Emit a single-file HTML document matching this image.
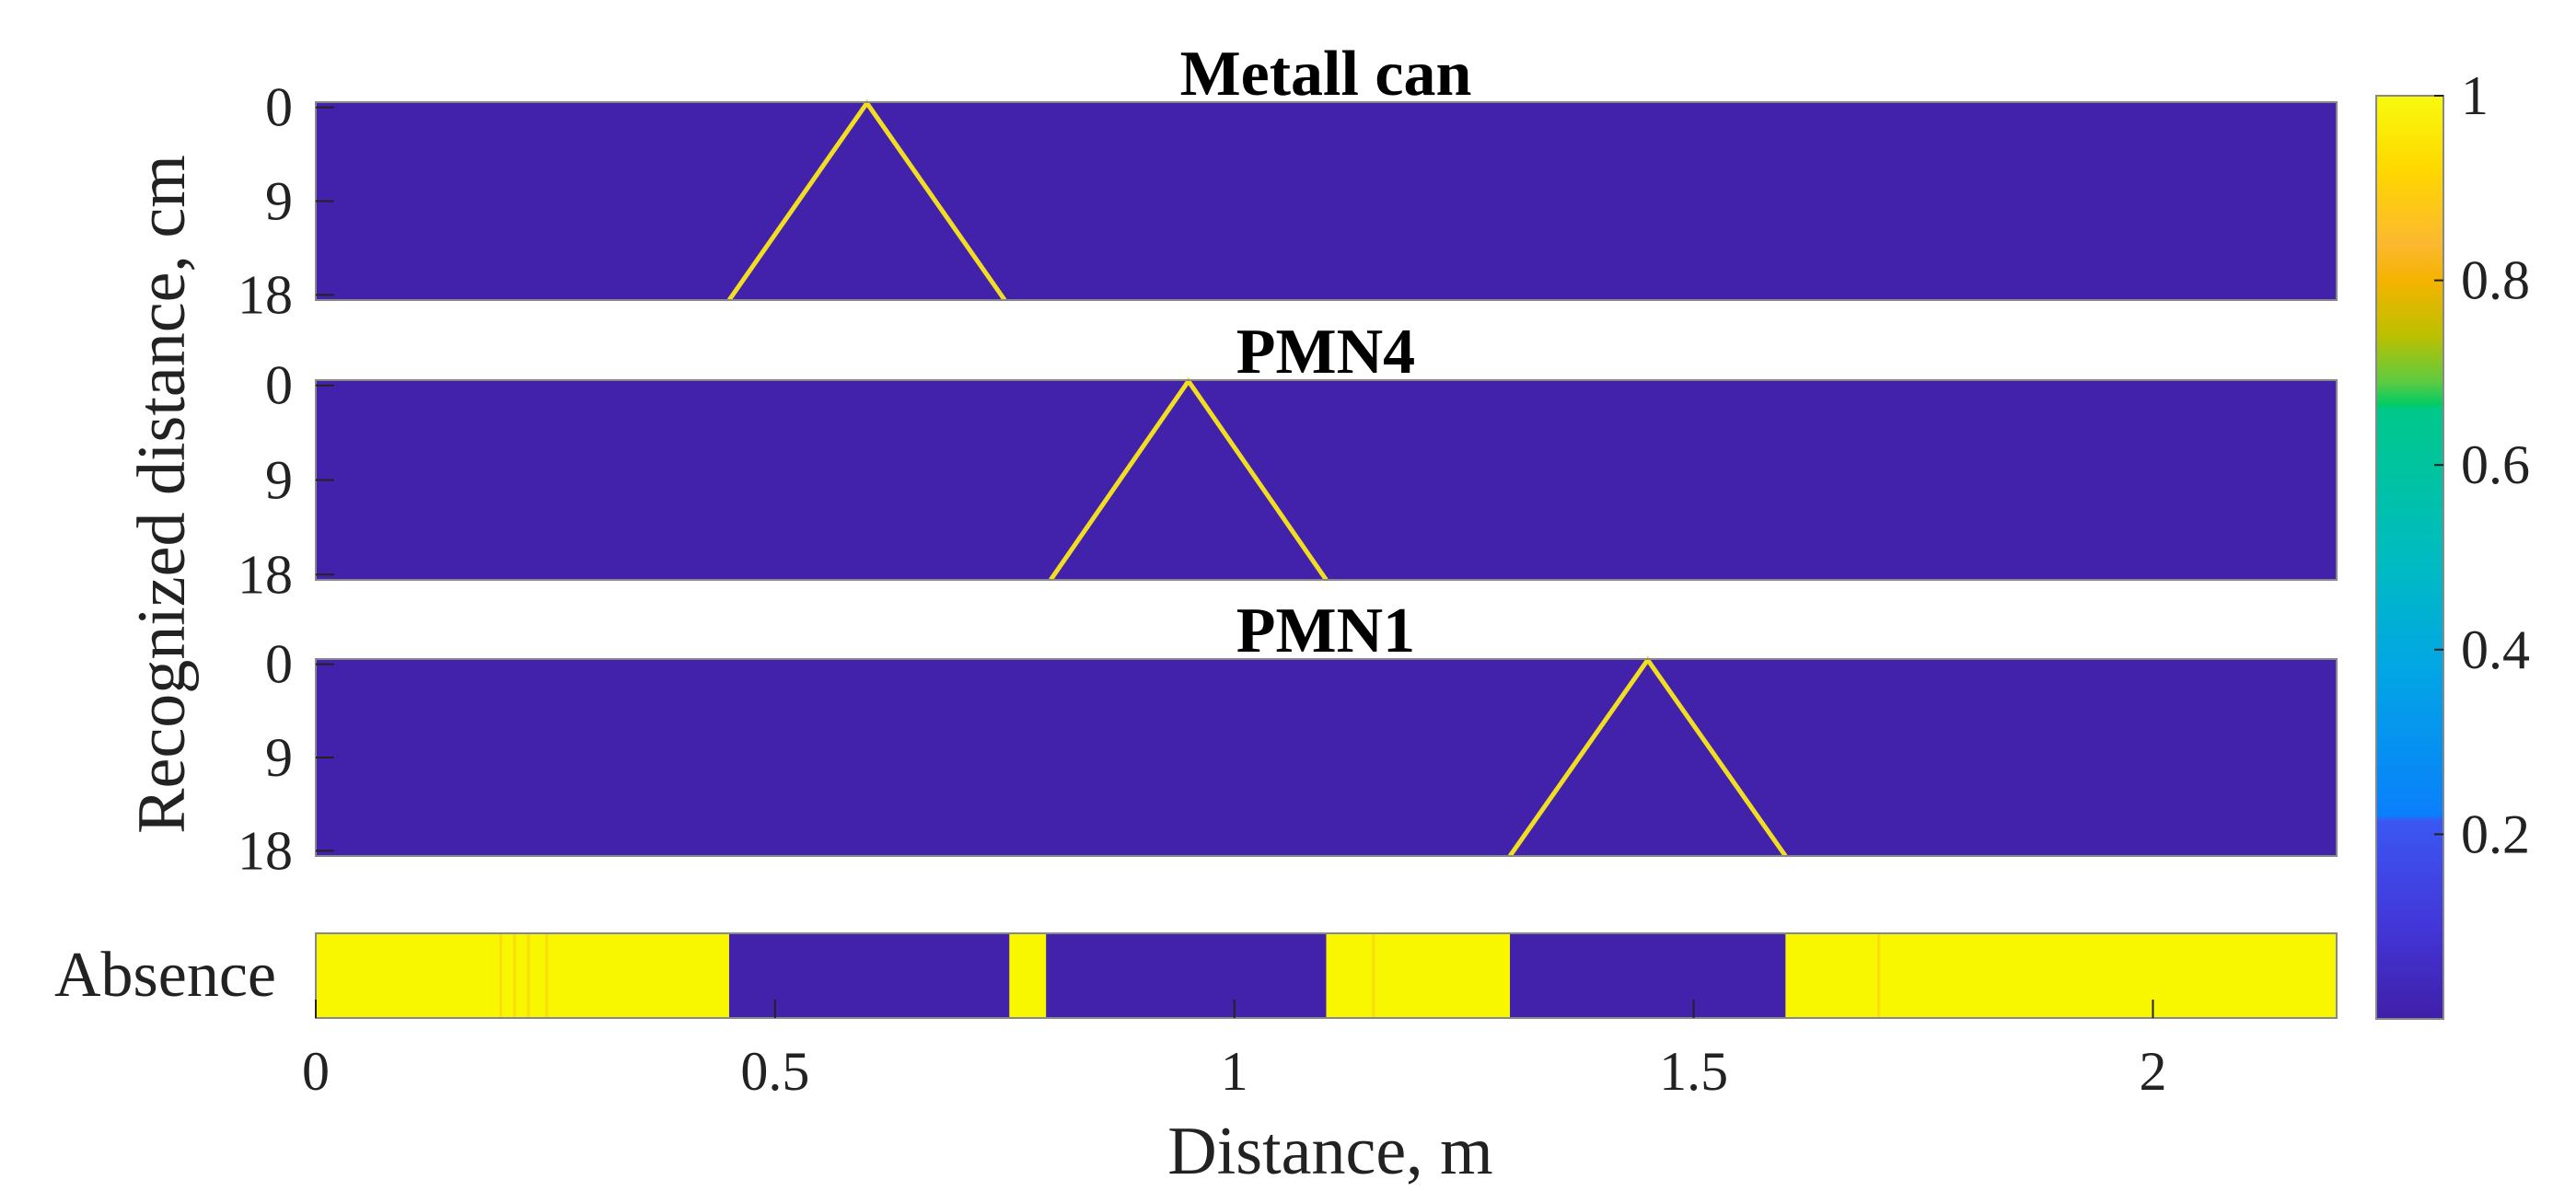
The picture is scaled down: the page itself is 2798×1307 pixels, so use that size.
<!DOCTYPE html>
<html><head><meta charset="utf-8"><style>
html,body{margin:0;padding:0;background:#fff;}
svg{display:block;font-family:"Liberation Serif",serif;}
</style></head><body>
<svg id="chart" width="2798" height="1307" viewBox="0 0 2798 1307" xmlns="http://www.w3.org/2000/svg">
<defs>
<linearGradient id="parula" x1="0" y1="1" x2="0" y2="0">
<stop offset="0" stop-color="#3f1fa8"/>
<stop offset="0.1" stop-color="#4336d8"/>
<stop offset="0.215" stop-color="#3a58f2"/>
<stop offset="0.22" stop-color="#0a7ffc"/>
<stop offset="0.38" stop-color="#02a6e4"/>
<stop offset="0.5" stop-color="#00bcc0"/>
<stop offset="0.66" stop-color="#00c88a"/>
<stop offset="0.665" stop-color="#00cc66"/>
<stop offset="0.69" stop-color="#5ccb40"/>
<stop offset="0.74" stop-color="#bcc000"/>
<stop offset="0.8" stop-color="#f5b300"/>
<stop offset="0.84" stop-color="#fcb830"/>
<stop offset="0.92" stop-color="#ffd800"/>
<stop offset="1" stop-color="#f8fa0d"/>
</linearGradient>
</defs>
<g id="plots"></g>
</svg>
<script>
// ---- data ----
const panelTitles = ["Metall can", "PMN4", "PMN1"];
const peakPositions = [0.6, 0.95, 1.45];
const halfWidths = [0.15, 0.15, 0.15];
const yTickValues = [0, 9, 18];
const xTickValues = [0, 0.5, 1, 1.5, 2];
const xTickLabels = ["0", "0.5", "1", "1.5", "2"];
const absenceStarts = [0, 0.755, 1.1, 1.6];
const absenceEnds = [0.45, 0.795, 1.3, 2.2];
const absenceStreaks = [0.2, 0.215, 0.23, 0.25, 1.15, 1.7];
const cbTickValues = [0.2, 0.4, 0.6, 0.8, 1];
const cbTickLabels = ["0.2", "0.4", "0.6", "0.8", "1"];

const NS = "http://www.w3.org/2000/svg";
const g = document.getElementById('plots');
function mk(tag, attrs, parent){const e=document.createElementNS(NS,tag);for(const k in attrs)e.setAttribute(k,attrs[k]);(parent||g).appendChild(e);return e;}

const X0=343, X1=2538, XMAX=2.2;
const xs = v => X0 + v/XMAX*(X1-X0);
const panels = [[111,326],[413,630],[716,930]];
const BG="#4222ab";

panels.forEach((p,i)=>{
  const [top,bot]=p;
  const rowH=(bot-top)/19;
  const ys = r => top + (r+0.5)*rowH;
  const grp = mk('g',{});
  
  
  const bg = mk('rect',{x:X0,y:top,width:X1-X0,height:bot-top,fill:BG},grp);
  
  
  const pk=peakPositions[i], hw=halfWidths[i];
  const line = mk('polyline',{points:`${xs(pk-hw)},${ys(18)+rowH/2} ${xs(pk)},${top+1} ${xs(pk+hw)},${ys(18)+rowH/2}`,fill:'none',stroke:'#f2de20','stroke-width':5},grp);
  
  
  const fr = mk('rect',{x:X0,y:top,width:X1-X0,height:bot-top,fill:'none',stroke:'#888','stroke-width':2},grp);
  
  
  yTickValues.forEach(v=>{
    const y=ys(v);
    const t=mk('line',{x1:X0,y1:y,x2:X0+20,y2:y,stroke:'#222','stroke-width':2},grp);
    
    
    const lb=mk('text',{x:318,y:y+20,'text-anchor':'end','font-size':60,fill:'#222'},grp);
    lb.textContent=String(v);
    
    
  });
  const tt=mk('text',{x:1440,y:top-8,'text-anchor':'middle','font-size':70,'font-weight':'bold',fill:'#000'},grp);
  tt.textContent=panelTitles[i];
  
  
});

// absence strip
const AT=1014, AB=1106;
const ag = mk('g',{});


const abg=mk('rect',{x:X0,y:AT,width:X1-X0,height:AB-AT,fill:BG},ag);


absenceStarts.forEach((s,i)=>{
  const r=mk('rect',{x:xs(s),y:AT,width:xs(absenceEnds[i])-xs(s),height:AB-AT,fill:'#f8f700'},ag);
  
  
});
absenceStreaks.forEach(s=>{
  const r=mk('rect',{x:xs(s),y:AT,width:3,height:AB-AT,fill:'#f8b020',opacity:0.35},ag);
  
  
});
const afr=mk('rect',{x:X0,y:AT,width:X1-X0,height:AB-AT,fill:'none',stroke:'#888','stroke-width':2},ag);


const al=mk('text',{x:300,y:1082,'text-anchor':'end','font-size':70,fill:'#222'},ag);
al.textContent='Absence';



xTickValues.forEach((v,i)=>{
  const x=xs(v);
  const t=mk('line',{x1:x,y1:AB,x2:x,y2:AB-20,stroke:'#222','stroke-width':2});
  
  
  const lb=mk('text',{x:x,y:1184,'text-anchor':'middle','font-size':60,fill:'#222'});
  lb.textContent=xTickLabels[i];
  
  
});
const xt=mk('text',{x:1445,y:1275,'text-anchor':'middle','font-size':74,fill:'#222'});
xt.textContent='Distance, m';


const yt=mk('text',{x:0,y:0,'text-anchor':'middle','font-size':74,fill:'#222',transform:'translate(200,537) rotate(-90)'});
yt.textContent='Recognized distance, cm';



// colorbar
const CX0=2581, CX1=2654, CT=104, CB=1107;
const cy = v => CB - v*(CB-CT);
const cb=mk('rect',{x:CX0,y:CT,width:CX1-CX0,height:CB-CT,fill:'url(#parula)',stroke:'#888','stroke-width':2});


cbTickValues.forEach((v,i)=>{
  const y=cy(v);
  const t=mk('line',{x1:CX1-10,y1:y,x2:CX1,y2:y,stroke:'#222','stroke-width':2});
  
  
  const lb=mk('text',{x:2673,y:y+20,'text-anchor':'start','font-size':60,fill:'#222'});
  lb.textContent=cbTickLabels[i];
  
  
});
</script>
</body></html>
